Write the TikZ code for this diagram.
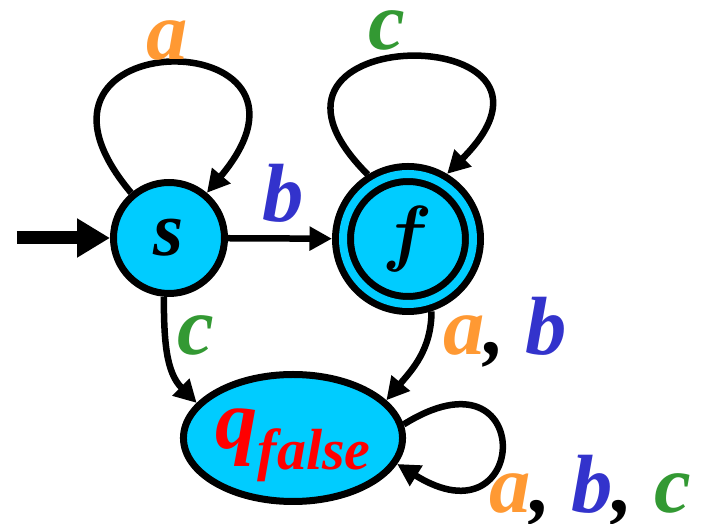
\documentclass[tikz,border=0pt]{standalone}
\usepackage{fix-cm}
\usepackage{bm}
\usepackage{fontspec}
\setmainfont{Liberation Serif}
\usepackage{tikz}
\usetikzlibrary{arrows.meta, shapes.geometric}
\definecolor{cState}{RGB}{0,204,255}
\definecolor{cOrange}{RGB}{255,153,51}
\definecolor{cBlue}{RGB}{51,51,204}
\definecolor{cGreen}{RGB}{51,153,51}
\tikzset{
	state/.style    ={circle, draw=black, line width=0.14cm, fill=cState, inner sep=0pt, minimum size=2.22cm},
	accept/.style   ={state, double=cState, double distance=0.16cm, minimum size=2.6cm, outer sep=0.22cm},
	trap/.style     ={ellipse, draw=black, line width=0.14cm, fill=cState, inner sep=0pt, minimum width=4.06cm, minimum height=2.54cm},
	trans/.style    ={line width=0.13cm, -{Triangle[length=0.45cm, width=0.46cm]}},
	initarrow/.style={line width=0.26cm, -{Triangle[length=0.66cm, width=0.74cm]}},
	lbl/.style      ={font=\fontsize{47}{56}\selectfont\bfseries\itshape, inner sep=0pt, anchor=base},
}

\begin{document}
\begin{tikzpicture}
	\useasboundingbox (0,0) rectangle (14.34,10.48);
	% states
	\node[state] (s) at (3.38,5.72) {\fontsize{44}{50}\selectfont\bfseries\itshape s};
	\node[accept] (f) at (8.16,5.70) {\fontsize{42}{48}\selectfont $\bm{f}$};
	\node[trap] (qf) at (5.86,1.72) {\color{red}\bfseries\itshape\fontsize{48}{50}\selectfont q\raisebox{-0.42cm}[0pt][0pt]{\fontsize{33}{36}\selectfont false}};
	% start
	\coordinate (init) at (0.34,5.72);
	\draw[initarrow] (init) -- (s);
	% transitions
	\draw[trans] (s) -- (f);
	\draw[trans] (s.130) to[out=130, in=50, distance=4.5cm] (s.50);
	\draw[trans] (f.122) to[out=135, in=45, distance=4.4cm] (f.59);
	\draw[trans] (s.-95) to[out=-90, in=135] (qf.160);
	\draw[trans] (f.-72) to[out=-90, in=50] (qf.22);
	\draw[trans] (qf.7) to[out=32, in=-32, distance=3.15cm] (qf.-14);
	% labels
	\node[lbl, cOrange] (la) at (3.34,9.28) {a};
	\node[lbl, cGreen] (lc) at (7.74,9.48) {c};
	\node[lbl, cBlue] (lb) at (5.66,6.04) {b};
	\node[lbl, cGreen] (lsq) at (3.92,3.38) {c};
	\node[lbl] (lfq) at (10.10,3.38) {\color{cOrange}a\color{black}, \color{cBlue}b};
	\node[lbl] (lqq) at (11.80,0.22) {\color{cOrange}a\color{black}, \color{cBlue}b\color{black}, \color{cGreen}c};
\end{tikzpicture}
\end{document}
